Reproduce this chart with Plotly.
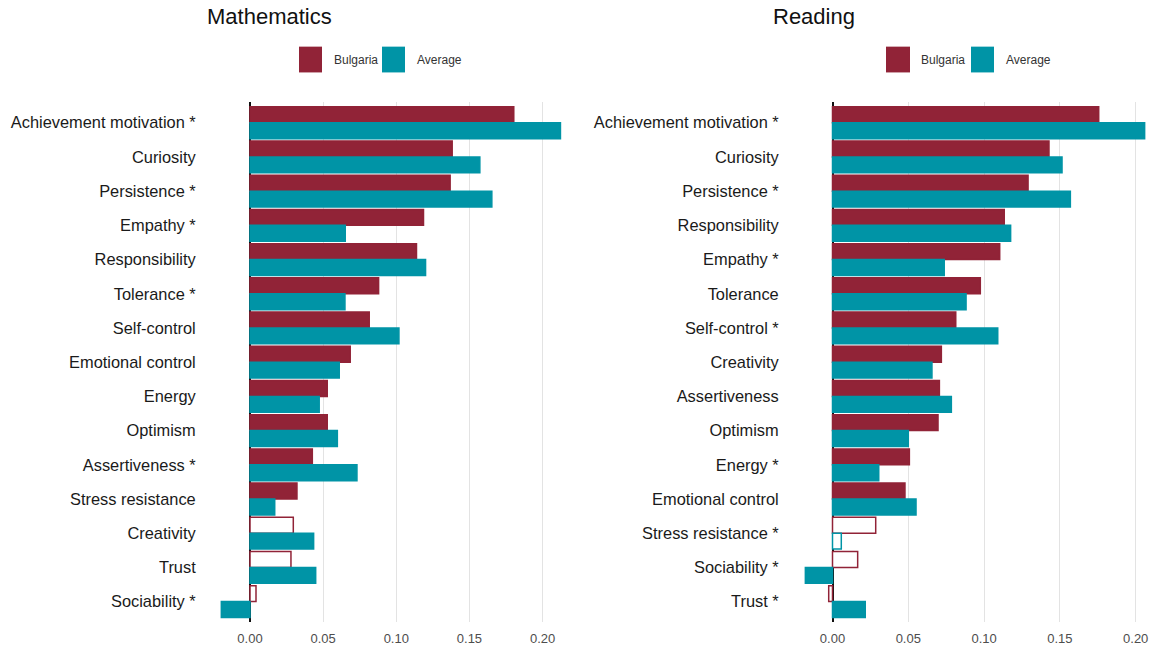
import plotly.graph_objects as go

# --- data -----------------------------------------------------------------
math_traits = [
    "Achievement motivation *", "Curiosity", "Persistence *", "Empathy *",
    "Responsibility", "Tolerance *", "Self-control", "Emotional control",
    "Energy", "Optimism", "Assertiveness *", "Stress resistance",
    "Creativity", "Trust", "Sociability *",
]
math_bulgaria = [0.1803, 0.1382, 0.1368, 0.1186, 0.1138, 0.0879, 0.0815, 0.0685,
                 0.0528, 0.0528, 0.0426, 0.0321, 0.0296, 0.0280, 0.0041]
math_average = [0.2122, 0.1571, 0.1653, 0.0651, 0.1200, 0.0649, 0.1018, 0.0610,
                0.0473, 0.0597, 0.0731, 0.0169, 0.0435, 0.0449, -0.0196]
# False -> estimate not significant (drawn as outline only)
math_bulgaria_sig = [True] * 12 + [False, False, False]
math_average_sig = [True] * 15

reading_traits = [
    "Achievement motivation *", "Curiosity", "Persistence *", "Responsibility",
    "Empathy *", "Tolerance", "Self-control *", "Creativity", "Assertiveness",
    "Optimism", "Energy *", "Emotional control", "Stress resistance *",
    "Sociability *", "Trust *",
]
reading_bulgaria = [0.1756, 0.1428, 0.1290, 0.1133, 0.1103, 0.0975, 0.0813, 0.0718,
                    0.0705, 0.0696, 0.0507, 0.0478, 0.0285, 0.0166, -0.0025]
reading_average = [0.2059, 0.1514, 0.1569, 0.1175, 0.0737, 0.0881, 0.1090, 0.0656,
                   0.0784, 0.0500, 0.0305, 0.0551, 0.0058, -0.0179, 0.0216]
reading_bulgaria_sig = [True] * 12 + [False, False, False]
reading_average_sig = [True] * 12 + [False, True, True]

x_ticks = [0.00, 0.05, 0.10, 0.15, 0.20]
x_tick_labels = ["0.00", "0.05", "0.10", "0.15", "0.20"]

series_names = ["Bulgaria", "Average"]
panel_titles = ["Mathematics", "Reading"]

# --- styling ----------------------------------------------------------------
W, H = 1153, 646
RED = "#912337"
TEAL = "#0094A6"
FONT = "Liberation Sans, Arial, sans-serif"


def fills(color, sig):
    return [color if s else "white" for s in sig]


fig = go.Figure()

panels = [
    (math_traits, math_bulgaria, math_average, math_bulgaria_sig, math_average_sig, "x", "y"),
    (reading_traits, reading_bulgaria, reading_average, reading_bulgaria_sig, reading_average_sig, "x2", "y2"),
]
for traits, bg, avg, bg_sig, avg_sig, xa, ya in panels:
    for name, vals, sig, col in [(series_names[0], bg, bg_sig, RED),
                                 (series_names[1], avg, avg_sig, TEAL)]:
        fig.add_trace(go.Bar(
            x=vals, y=traits, orientation="h", name=name,
            marker=dict(color=fills(col, sig), line=dict(color=col, width=1.5)),
            xaxis=xa, yaxis=ya, showlegend=False,
        ))

# pixel geometry of the two plotting areas
math_px = (217, 565)
read_px = (800, 1150)
math_zero, math_scale = 250.0, 1463.0
read_zero, read_scale = 832.5, 1516.0
y_top, y_bot = 103, 627


def xrange(px, zero, scale):
    return [(px[0] - zero) / scale, (px[1] - zero) / scale]


xcommon = dict(
    tickvals=x_ticks, ticktext=x_tick_labels, showgrid=True,
    gridcolor="#E3E3E3", gridwidth=1, zeroline=True, zerolinecolor="#111111",
    zerolinewidth=2, showline=False, ticks="outside", ticklen=4,
    tickcolor="rgba(0,0,0,0)", tickfont=dict(family=FONT, size=13, color="#4D4D4D"),
    fixedrange=True,
)
ycommon = dict(
    type="category", showgrid=False, zeroline=False, showline=False,
    ticks="outside", ticklen=17, tickcolor="rgba(0,0,0,0)",
    tickfont=dict(family=FONT, size=16.4, color="#1A1A1A"),
    range=[14.6, -0.6], domain=[1 - y_bot / H, 1 - y_top / H], fixedrange=True,
)

fig.update_layout(
    width=W, height=H, margin=dict(l=0, r=0, t=0, b=0),
    paper_bgcolor="white", plot_bgcolor="white",
    barmode="group", bargap=0.07, bargroupgap=0.0,
    xaxis=dict(domain=[math_px[0] / W, math_px[1] / W],
               range=xrange(math_px, math_zero, math_scale), anchor="y", **xcommon),
    xaxis2=dict(domain=[read_px[0] / W, read_px[1] / W],
                range=xrange(read_px, read_zero, read_scale), anchor="y2", **xcommon),
    yaxis=dict(anchor="x", categoryorder="array", categoryarray=math_traits, **ycommon),
    yaxis2=dict(anchor="x2", categoryorder="array", categoryarray=reading_traits, **ycommon),
    font=dict(family=FONT),
)

# panel titles
for title, left in zip(panel_titles, [205, 771]):
    fig.add_annotation(text=title, x=left / W, y=1 - 17 / H, xref="paper", yref="paper",
                       xanchor="left", yanchor="middle", showarrow=False,
                       font=dict(family=FONT, size=22, color="#111111"))

# legend keys drawn as large squares with labels
legend_items = [
    # (square x0, square x1, label left)
    [(299, 322, 332), (382, 405, 415)],
    [(886, 910, 919), (971, 994, 1004)],
]
for keys in legend_items:
    for (x0, x1, tx), name, col in zip(keys, series_names, [RED, TEAL]):
        fig.add_shape(type="rect", xref="paper", yref="paper",
                      x0=x0 / W, x1=x1 / W, y0=1 - 73 / H, y1=1 - 47 / H,
                      fillcolor=col, line=dict(width=0))
        fig.add_annotation(text=name, x=tx / W, y=1 - 60 / H, xref="paper", yref="paper",
                           xanchor="left", yanchor="middle", showarrow=False,
                           font=dict(family=FONT, size=12, color="#333333"))

fig.write_html("out.html", config={"displayModeBar": False})
